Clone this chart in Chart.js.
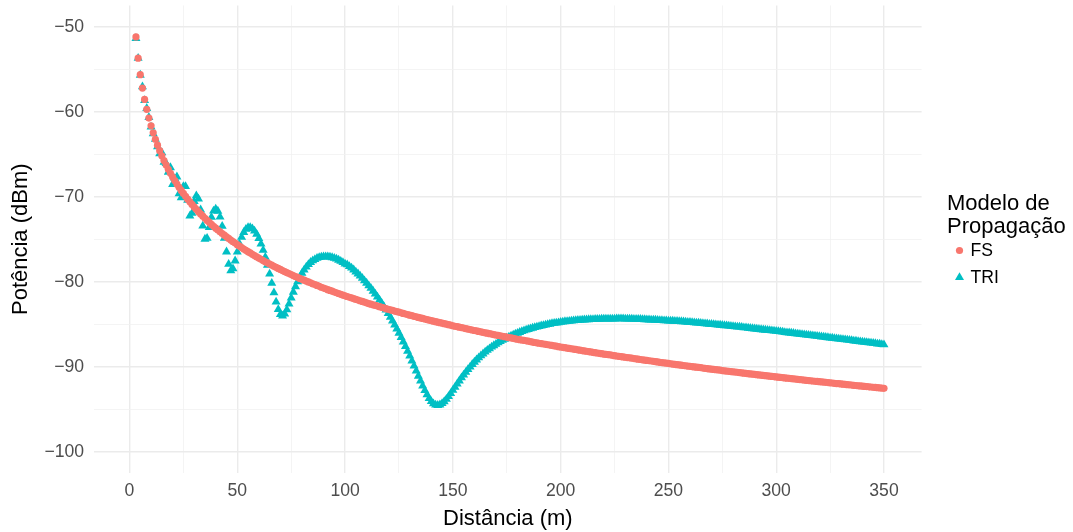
<!DOCTYPE html>
<html>
<head>
<meta charset="utf-8">
<script src="https://cdn.jsdelivr.net/npm/chart.js@4.4.0/dist/chart.umd.min.js"></script>
<style>
  html, body { margin: 0; padding: 0; background: #ffffff; }
  canvas { display: block; }
</style>
</head>
<body>
<canvas id="grafico" width="1073" height="532"></canvas>
<script>
// Distância (m) de cada amostra
const distancia = [
  3, 4, 5, 6, 7, 8, 9, 10,
  11, 12, 13, 14, 15, 16, 17, 18, 19, 20, 21, 22, 23, 24, 25, 26, 27, 28, 29, 30,
  31, 32, 33, 34, 35, 36, 37, 38, 39, 40, 41, 42, 43, 44, 45, 46, 47, 48, 49, 50,
  51, 52, 53, 54, 55, 56, 57, 58, 59, 60, 61, 62, 63, 64, 65, 66, 67, 68, 69, 70,
  71, 72, 73, 74, 75, 76, 77, 78, 79, 80, 81, 82, 83, 84, 85, 86, 87, 88, 89, 90,
  91, 92, 93, 94, 95, 96, 97, 98, 99, 100, 101, 102, 103, 104, 105, 106, 107, 108, 109, 110,
  111, 112, 113, 114, 115, 116, 117, 118, 119, 120, 121, 122, 123, 124, 125, 126, 127, 128, 129, 130,
  131, 132, 133, 134, 135, 136, 137, 138, 139, 140, 141, 142, 143, 144, 145, 146, 147, 148, 149, 150,
  151, 152, 153, 154, 155, 156, 157, 158, 159, 160, 161, 162, 163, 164, 165, 166, 167, 168, 169, 170,
  171, 172, 173, 174, 175, 176, 177, 178, 179, 180, 181, 182, 183, 184, 185, 186, 187, 188, 189, 190,
  191, 192, 193, 194, 195, 196, 197, 198, 199, 200, 201, 202, 203, 204, 205, 206, 207, 208, 209, 210,
  211, 212, 213, 214, 215, 216, 217, 218, 219, 220, 221, 222, 223, 224, 225, 226, 227, 228, 229, 230,
  231, 232, 233, 234, 235, 236, 237, 238, 239, 240, 241, 242, 243, 244, 245, 246, 247, 248, 249, 250,
  251, 252, 253, 254, 255, 256, 257, 258, 259, 260, 261, 262, 263, 264, 265, 266, 267, 268, 269, 270,
  271, 272, 273, 274, 275, 276, 277, 278, 279, 280, 281, 282, 283, 284, 285, 286, 287, 288, 289, 290,
  291, 292, 293, 294, 295, 296, 297, 298, 299, 300, 301, 302, 303, 304, 305, 306, 307, 308, 309, 310,
  311, 312, 313, 314, 315, 316, 317, 318, 319, 320, 321, 322, 323, 324, 325, 326, 327, 328, 329, 330,
  331, 332, 333, 334, 335, 336, 337, 338, 339, 340, 341, 342, 343, 344, 345, 346, 347, 348, 349, 350
];

// Potência (dBm) - modelo de espaço livre (FS)
const potenciaFS = [
  -51.20, -53.70, -55.64, -57.22, -58.56, -59.72, -60.75, -61.66,
  -62.49, -63.24, -63.94, -64.58, -65.18, -65.74, -66.27, -66.77, -67.24, -67.68,
  -68.10, -68.51, -68.89, -69.26, -69.62, -69.96, -70.29, -70.60, -70.91, -71.20,
  -71.49, -71.76, -72.03, -72.29, -72.54, -72.79, -73.02, -73.26, -73.48, -73.70,
  -73.92, -74.13, -74.33, -74.53, -74.72, -74.91, -75.10, -75.29, -75.46, -75.64,
  -75.81, -75.98, -76.15, -76.31, -76.47, -76.62, -76.78, -76.93, -77.08, -77.22,
  -77.37, -77.51, -77.65, -77.78, -77.92, -78.05, -78.18, -78.31, -78.44, -78.56,
  -78.69, -78.81, -78.93, -79.04, -79.16, -79.28, -79.39, -79.50, -79.61, -79.72,
  -79.82, -79.93, -80.03, -80.13, -80.24, -80.34, -80.44, -80.54, -80.65, -80.75,
  -80.84, -80.94, -81.03, -81.12, -81.21, -81.30, -81.39, -81.48, -81.57, -81.66,
  -81.74, -81.83, -81.91, -81.99, -82.08, -82.16, -82.24, -82.32, -82.41, -82.49,
  -82.57, -82.64, -82.72, -82.79, -82.87, -82.94, -83.02, -83.09, -83.17, -83.24,
  -83.31, -83.38, -83.45, -83.52, -83.59, -83.66, -83.73, -83.80, -83.87, -83.94,
  -84.00, -84.07, -84.13, -84.20, -84.26, -84.32, -84.39, -84.45, -84.52, -84.58,
  -84.64, -84.70, -84.76, -84.82, -84.88, -84.94, -85.00, -85.06, -85.12, -85.18,
  -85.24, -85.29, -85.35, -85.40, -85.46, -85.52, -85.57, -85.63, -85.68, -85.74,
  -85.79, -85.85, -85.90, -85.95, -86.01, -86.06, -86.11, -86.16, -86.22, -86.27,
  -86.32, -86.37, -86.42, -86.47, -86.52, -86.57, -86.62, -86.67, -86.72, -86.77,
  -86.82, -86.86, -86.91, -86.96, -87.00, -87.05, -87.10, -87.15, -87.19, -87.24,
  -87.28, -87.33, -87.37, -87.42, -87.46, -87.50, -87.55, -87.59, -87.64, -87.68,
  -87.72, -87.76, -87.81, -87.85, -87.89, -87.93, -87.97, -88.02, -88.06, -88.10,
  -88.14, -88.18, -88.22, -88.26, -88.31, -88.35, -88.39, -88.43, -88.47, -88.51,
  -88.55, -88.59, -88.62, -88.66, -88.70, -88.74, -88.78, -88.81, -88.85, -88.89,
  -88.93, -88.96, -89.00, -89.04, -89.07, -89.11, -89.15, -89.19, -89.22, -89.26,
  -89.30, -89.33, -89.37, -89.40, -89.44, -89.48, -89.51, -89.55, -89.58, -89.62,
  -89.65, -89.69, -89.72, -89.76, -89.79, -89.82, -89.86, -89.89, -89.93, -89.96,
  -89.99, -90.03, -90.06, -90.09, -90.12, -90.16, -90.19, -90.22, -90.26, -90.29,
  -90.32, -90.35, -90.38, -90.41, -90.45, -90.48, -90.51, -90.54, -90.57, -90.60,
  -90.63, -90.66, -90.69, -90.72, -90.76, -90.79, -90.82, -90.85, -90.88, -90.91,
  -90.94, -90.97, -91.00, -91.03, -91.06, -91.08, -91.11, -91.14, -91.17, -91.20,
  -91.23, -91.26, -91.29, -91.32, -91.35, -91.37, -91.40, -91.43, -91.46, -91.49,
  -91.52, -91.54, -91.57, -91.60, -91.63, -91.65, -91.68, -91.71, -91.73, -91.76,
  -91.79, -91.81, -91.84, -91.87, -91.90, -91.92, -91.95, -91.98, -92.00, -92.03,
  -92.06, -92.08, -92.11, -92.13, -92.16, -92.19, -92.21, -92.24, -92.26, -92.29,
  -92.32, -92.34, -92.37, -92.39, -92.42, -92.44, -92.47, -92.49, -92.52, -92.54
];

// Potência (dBm) - modelo de dois raios (TRI)
const potenciaTRI = [
  -51.38, -53.70, -55.69, -57.05, -58.67, -59.60, -60.66, -61.80,
  -62.58, -63.24, -64.11, -64.94, -64.83, -65.93, -66.09, -67.10, -66.57, -68.54,
  -67.84, -67.66, -69.65, -70.11, -68.78, -68.79, -70.42, -72.27, -71.93, -70.54,
  -69.89, -70.26, -71.54, -73.44, -74.98, -74.89, -73.62, -72.41, -71.67, -71.44,
  -71.69, -72.39, -73.47, -74.88, -76.48, -77.94, -78.71, -78.46, -77.54, -76.49,
  -75.52, -74.75, -74.19, -73.82, -73.63, -73.62, -73.76, -74.02, -74.42, -74.91,
  -75.55, -76.28, -77.12, -78.05, -79.08, -80.18, -81.29, -82.37, -83.27, -83.86,
  -84.02, -83.79, -83.28, -82.62, -81.91, -81.22, -80.57, -79.99, -79.46, -79.00,
  -78.61, -78.26, -77.97, -77.72, -77.53, -77.37, -77.24, -77.15, -77.10, -77.06,
  -77.05, -77.06, -77.10, -77.16, -77.24, -77.33, -77.45, -77.58, -77.74, -77.91,
  -78.00, -78.20, -78.39, -78.60, -78.84, -79.07, -79.32, -79.59, -79.87, -80.16,
  -80.47, -80.77, -81.10, -81.44, -81.79, -82.15, -82.53, -82.92, -83.33, -83.74,
  -84.17, -84.61, -85.07, -85.55, -86.04, -86.55, -87.07, -87.61, -88.17, -88.74,
  -89.31, -89.90, -90.49, -91.10, -91.68, -92.25, -92.80, -93.29, -93.74, -94.09,
  -94.35, -94.50, -94.54, -94.48, -94.33, -94.10, -93.82, -93.49, -93.14, -92.77,
  -92.40, -92.02, -91.66, -91.30, -90.96, -90.64, -90.31, -90.02, -89.72, -89.45,
  -89.19, -88.94, -88.71, -88.48, -88.27, -88.06, -87.87, -87.68, -87.51, -87.34,
  -87.18, -87.03, -86.88, -86.75, -86.62, -86.49, -86.37, -86.26, -86.16, -86.05,
  -85.95, -85.85, -85.77, -85.68, -85.60, -85.52, -85.45, -85.39, -85.31, -85.25,
  -85.19, -85.14, -85.08, -85.03, -84.98, -84.92, -84.89, -84.84, -84.81, -84.77,
  -84.73, -84.69, -84.67, -84.64, -84.61, -84.58, -84.55, -84.54, -84.52, -84.50,
  -84.48, -84.46, -84.45, -84.43, -84.43, -84.42, -84.41, -84.40, -84.39, -84.39,
  -84.38, -84.38, -84.37, -84.37, -84.37, -84.35, -84.36, -84.36, -84.36, -84.37,
  -84.37, -84.38, -84.39, -84.40, -84.40, -84.41, -84.42, -84.44, -84.45, -84.46,
  -84.48, -84.49, -84.50, -84.51, -84.53, -84.55, -84.56, -84.58, -84.59, -84.61,
  -84.62, -84.63, -84.65, -84.66, -84.68, -84.69, -84.71, -84.73, -84.76, -84.77,
  -84.79, -84.82, -84.84, -84.86, -84.88, -84.91, -84.93, -84.95, -84.99, -85.01,
  -85.03, -85.05, -85.08, -85.10, -85.13, -85.16, -85.18, -85.21, -85.23, -85.26,
  -85.28, -85.31, -85.33, -85.36, -85.40, -85.42, -85.45, -85.48, -85.51, -85.54,
  -85.57, -85.60, -85.63, -85.66, -85.69, -85.71, -85.74, -85.77, -85.80, -85.83,
  -85.86, -85.89, -85.92, -85.96, -85.99, -86.01, -86.04, -86.07, -86.11, -86.14,
  -86.17, -86.20, -86.23, -86.26, -86.30, -86.32, -86.35, -86.39, -86.41, -86.44,
  -86.48, -86.50, -86.54, -86.57, -86.61, -86.63, -86.67, -86.70, -86.73, -86.76,
  -86.80, -86.82, -86.86, -86.89, -86.92, -86.96, -86.98, -87.02, -87.05, -87.08,
  -87.12, -87.14, -87.18, -87.21, -87.24, -87.27, -87.31, -87.33, -87.37, -87.40
];

// marcas dos eixos (as de 50 em 50 / 10 em 10 levam rótulo, as outras são grade menor)
const marcasX = [0, 25, 50, 75, 100, 125, 150, 175, 200, 225, 250, 275, 300, 325, 350];
const marcasY = [-100, -95, -90, -85, -80, -75, -70, -65, -60, -55, -50];

const corFS = '#F8766D';
const corTRI = '#00BFC4';
const fonte = '"Liberation Sans", Arial, Helvetica, sans-serif';

function rotulo(v) {
  return String(v).replace('-', '\u2212');
}

// legenda no estilo do ggplot, desenhada à direita do painel
const legendaModelo = {
  id: 'legendaModelo',
  afterDraw(chart) {
    const ctx = chart.ctx;
    ctx.save();
    ctx.fillStyle = '#000000';
    ctx.textAlign = 'left';
    ctx.textBaseline = 'alphabetic';
    ctx.font = '22px ' + fonte;
    ctx.fillText('Modelo de', 947, 209.5);
    ctx.fillText('Propagação', 947, 232.5);

    // chaves
    ctx.fillStyle = corFS;
    ctx.beginPath();
    ctx.arc(959.5, 250.5, 3.6, 0, Math.PI * 2);
    ctx.fill();

    const r = 5.2;
    const cx = 959.5, cy = 277.5;
    ctx.fillStyle = corTRI;
    ctx.beginPath();
    ctx.moveTo(cx, cy - r);
    ctx.lineTo(cx + r * Math.sin(2 * Math.PI / 3), cy - r * Math.cos(2 * Math.PI / 3));
    ctx.lineTo(cx + r * Math.sin(4 * Math.PI / 3), cy - r * Math.cos(4 * Math.PI / 3));
    ctx.closePath();
    ctx.fill();

    ctx.fillStyle = '#000000';
    ctx.font = '17.6px ' + fonte;
    ctx.textBaseline = 'middle';
    ctx.fillText('FS', 970.5, 251);
    ctx.fillText('TRI', 970.5, 278);
    ctx.restore();
  }
};

function gradeCor(passo) {
  return (c) => (c.tick && c.tick.value % passo === 0) ? '#EBEBEB' : '#F1F1F1';
}
function gradeLargura(passo) {
  return (c) => (c.tick && c.tick.value % passo === 0) ? 1.4 : 0.8;
}

const ctx = document.getElementById('grafico');
new Chart(ctx, {
  type: 'scatter',
  data: {
    datasets: [
      {
        label: 'FS',
        data: distancia.map((d, i) => ({ x: d, y: potenciaFS[i] })),
        pointStyle: 'circle',
        pointRadius: 3.6,
        pointBackgroundColor: corFS,
        pointBorderWidth: 0,
        pointBorderColor: corFS
      },
      {
        label: 'TRI',
        data: distancia.map((d, i) => ({ x: d, y: potenciaTRI[i] })),
        pointStyle: 'triangle',
        pointRadius: 5.2,
        pointBackgroundColor: corTRI,
        pointBorderWidth: 0,
        pointBorderColor: corTRI
      }
    ]
  },
  options: {
    responsive: false,
    animation: false,
    devicePixelRatio: 1,
    layout: {
      padding: { left: 0, right: 151.4, top: 5.45, bottom: 0 }
    },
    plugins: {
      legend: { display: false },
      tooltip: { enabled: false }
    },
    scales: {
      x: {
        type: 'linear',
        min: -16.45,
        max: 367.45,
        afterBuildTicks: (s) => { s.ticks = marcasX.map(v => ({ value: v })); },
        afterFit: (s) => {
          s.height = 59.05;
          s.paddingLeft = 0;
          s.paddingRight = 0;
        },
        ticks: {
          autoSkip: false,
          maxRotation: 0,
          padding: 8,
          color: '#4D4D4D',
          font: { family: fonte, size: 17.6 },
          callback: (v) => (v % 50 === 0 ? rotulo(v) : '')
        },
        grid: {
          drawTicks: false,
          color: gradeCor(50),
          lineWidth: gradeLargura(50)
        },
        border: { display: false },
        title: {
          display: true,
          text: 'Distância (m)',
          color: '#000000',
          font: { family: fonte, size: 22 },
          padding: { top: 0, bottom: 0 }
        }
      },
      y: {
        type: 'linear',
        min: -102.5,
        max: -47.5,
        afterBuildTicks: (s) => { s.ticks = marcasY.map(v => ({ value: v })); },
        afterFit: (s) => {
          s.width = 94.04;
          s.paddingTop = 0;
          s.paddingBottom = 0;
        },
        ticks: {
          autoSkip: false,
          padding: 10,
          color: '#4D4D4D',
          font: { family: fonte, size: 17.6 },
          callback: (v) => (v % 10 === 0 ? rotulo(v) : '')
        },
        grid: {
          drawTicks: false,
          color: gradeCor(10),
          lineWidth: gradeLargura(10)
        },
        border: { display: false },
        title: {
          display: true,
          text: 'Potência (dBm)',
          color: '#000000',
          font: { family: fonte, size: 22 },
          padding: { top: 7.3, bottom: 0 }
        }
      }
    }
  },
  plugins: [legendaModelo]
});
</script>
</body>
</html>
